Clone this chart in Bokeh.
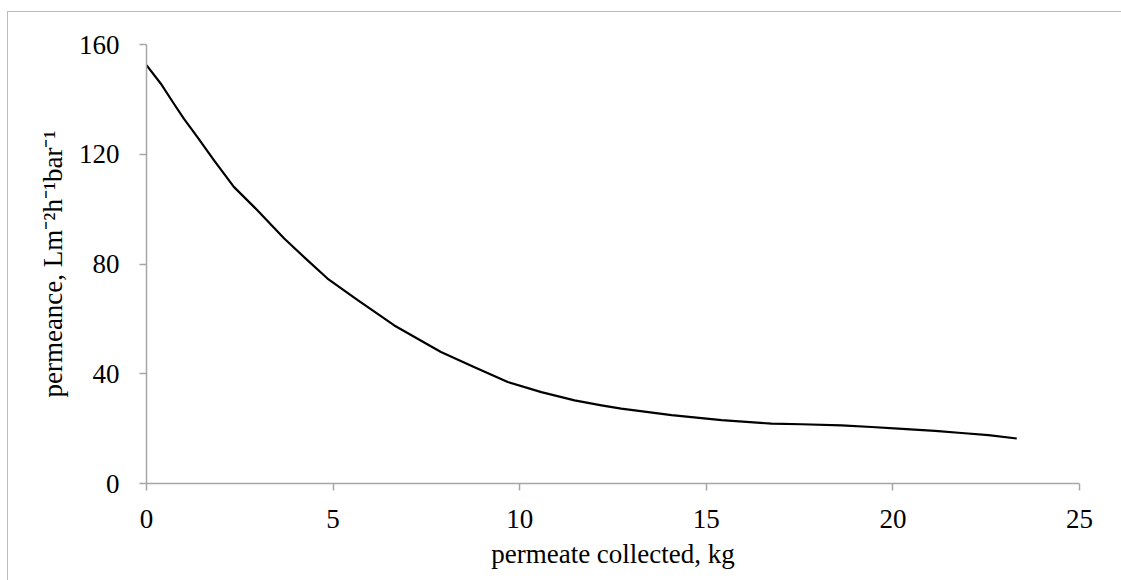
from bokeh.plotting import figure
from bokeh.models import Range1d, FixedTicker
from bokeh.embed import file_html
from bokeh.resources import INLINE

# Permeance vs permeate collected
permeate_kg = [0.0, 0.38, 0.73, 1.00, 1.36, 1.81, 2.34, 2.97, 3.69, 4.31, 4.85,
               5.66, 6.64, 7.89, 8.79, 9.68, 10.58, 11.47, 12.19, 12.72, 14.07,
               15.41, 16.75, 17.55, 18.62, 19.43, 20.14, 21.13, 21.84, 22.56, 23.32]
permeance = [152.5, 145.8, 138.5, 133.0, 126.3, 117.8, 108.1, 99.6, 89.3, 81.4, 74.7,
             66.8, 57.6, 47.9, 42.4, 37.0, 33.3, 30.3, 28.5, 27.3, 24.9,
             23.1, 21.8, 21.6, 21.2, 20.6, 20.0, 19.2, 18.4, 17.6, 16.4]

x_ticks = [0, 5, 10, 15, 20, 25]
y_ticks = [0, 40, 80, 120, 160]

FONT = "Liberation Serif"
AXIS_GRAY = "#a6a6a6"

p = figure(width=1114, height=569, output_backend="svg", toolbar_location=None,
           x_range=Range1d(0, 25), y_range=Range1d(0, 160),
           min_border_left=138, min_border_top=32, min_border_right=43,
           min_border_bottom=98)
p.margin = (11, 0, 0, 7)
p.styles = {"border-left": "1px solid #bdbdbd", "border-top": "1px solid #bdbdbd"}

p.line(permeate_kg, permeance, line_color="black", line_width=2.2, line_join="round")

p.outline_line_color = None
p.xgrid.visible = False
p.ygrid.visible = False

p.xaxis.ticker = FixedTicker(ticks=x_ticks)
p.yaxis.ticker = FixedTicker(ticks=y_ticks)
p.xaxis.axis_label = "permeate collected, kg"
p.yaxis.axis_label = "permeance, Lm\u207b\u00b2h\u207b\u00b9bar\u207b\u00b9"

for ax in (p.xaxis, p.yaxis):
    ax.axis_line_color = AXIS_GRAY
    ax.major_tick_line_color = AXIS_GRAY
    ax.axis_line_width = 1.5
    ax.major_tick_line_width = 1.5
    ax.major_tick_in = 0
    ax.major_tick_out = 7
    ax.minor_tick_line_color = None
    ax.major_label_text_font = FONT
    ax.major_label_text_font_size = "27px"
    ax.major_label_text_color = "black"
    ax.axis_label_text_font = FONT
    ax.axis_label_text_font_size = "27px"
    ax.axis_label_text_font_style = "normal"
    ax.axis_label_text_color = "black"

p.xaxis.major_label_standoff = 19
p.yaxis.major_label_standoff = 20
p.xaxis.axis_label_standoff = 8
p.yaxis.axis_label_standoff = 8

open("out.html", "w").write(file_html(p, INLINE))
